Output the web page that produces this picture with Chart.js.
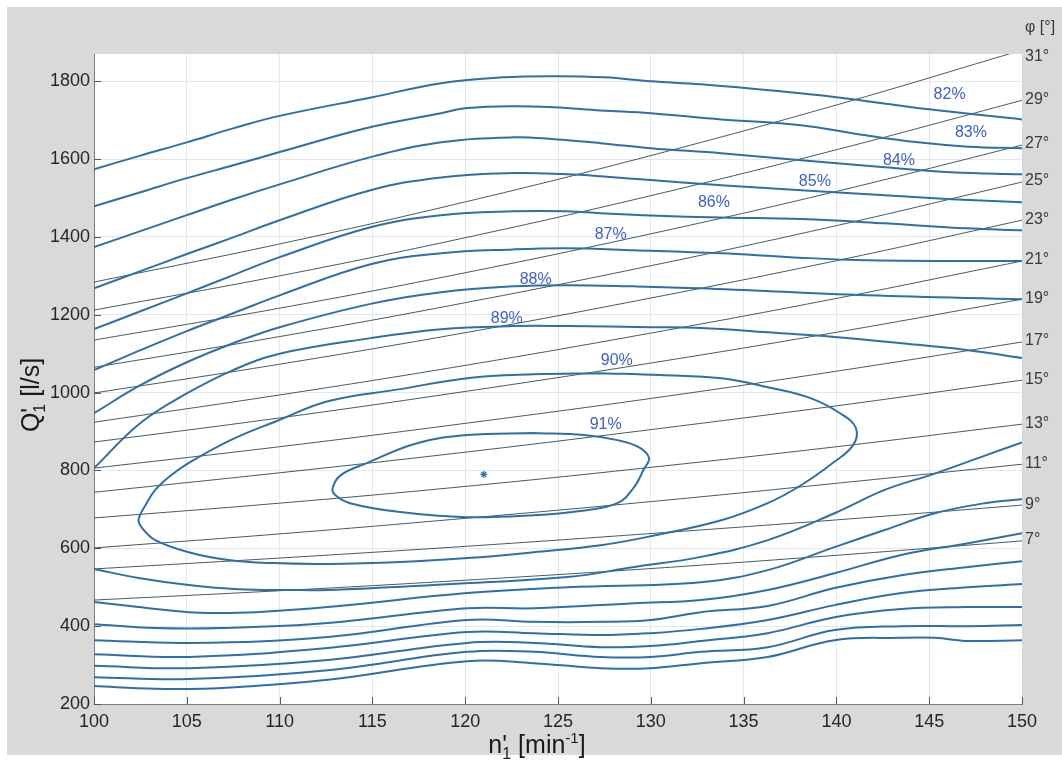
<!DOCTYPE html>
<html>
<head>
<meta charset="utf-8">
<title>Hill chart</title>
<script src="https://cdn.jsdelivr.net/npm/chart.js@4.4.1/dist/chart.umd.min.js"></script>
<style>
    html, body { margin: 0; padding: 0; background: #fff; }
    #hill { display: block; }
</style>
</head>
<body>
<canvas id="hill" width="1062" height="765"></canvas>
<script>
// ===== AXES =====
const nTicks = [100, 105, 110, 115, 120, 125, 130, 135, 140, 145, 150];
const qTicks = [200, 400, 600, 800, 1000, 1200, 1400, 1600, 1800];

// ===== GUIDE VANE OPENING LINES (Q' at n' = 100 ... 150) =====
const phiN = [100, 110, 120, 130, 140, 150];
const phiNames = ["31°", "29°", "27°", "25°", "23°", "21°", "19°", "17°", "15°", "13°", "11°", "9°", "7°"];
const phi31 = [1284, 1382, 1490, 1609, 1739, 1880];
const phi29 = [1212, 1300, 1398, 1506, 1624, 1751];
const phi27 = [1135, 1217, 1308, 1408, 1517, 1636];
const phi25 = [1065, 1144, 1231, 1326, 1429, 1541];
const phi23 = [999, 1073, 1154, 1243, 1339, 1443];
const phi21 = [924, 994, 1070, 1153, 1242, 1338];
const phi19 = [873, 935, 1003, 1076, 1155, 1240];
const phi17 = [806, 861, 921, 985, 1055, 1130];
const phi15 = [744, 794, 847, 905, 966, 1032];
const phi13 = [678, 716, 759, 808, 861, 919];
const phi11 = [601, 637, 677, 720, 767, 816];
const phi9 = [547, 575, 605, 638, 673, 711];
const phi7 = [467, 491, 518, 548, 582, 619];

// ===== EFFICIENCY CONTOURS [n', Q'] =====
const eta82Top = [[100,1574],[102.5,1609],[105,1643],[107.5,1679],[110,1711],[115,1759],[118.7,1795],[122,1810],[125,1813],[127.5,1810],[130,1800],[132.7,1792],[137,1774],[140,1759],[145,1728],[150,1702]];
const eta83Top = [[100,1479],[102.5,1515],[105,1551],[107.5,1584],[110,1618],[114.7,1680],[118.7,1718],[120.1,1731],[122.6,1736],[124.8,1733],[127.3,1725],[130,1718],[133.8,1702],[138.1,1687],[141.2,1664],[144.4,1643],[147.1,1632],[150,1628]];
const eta84Top = [[100,1374],[102.5,1415],[105,1456],[107.5,1497],[110,1535],[114.9,1605],[118.7,1643],[122.6,1656],[124.8,1651],[127.3,1641],[130,1628],[133.8,1615],[138.1,1597],[142.6,1579],[146.2,1566],[150,1561]];
const eta85Top = [[100,1268],[102.5,1312],[105,1356],[107.5,1399],[110,1443],[114.9,1520],[118.7,1553],[122.6,1564],[125.5,1561],[127.3,1556],[130,1546],[133.8,1533],[138.1,1520],[142.6,1507],[146.2,1497],[150,1489]];
const eta86Top = [[100,1163],[102.5,1209],[105,1255],[107.5,1302],[110,1348],[114.9,1425],[118.7,1456],[122.6,1466],[125.5,1466],[127.3,1461],[130,1455],[133.8,1450],[138.1,1446],[142.6,1435],[147,1422],[150,1417]];
const eta87Top = [[100,1058],[102.5,1109],[105,1158],[107.5,1204],[110,1250],[114.9,1330],[118.7,1358],[122.6,1368],[125.5,1371],[129.1,1366],[133.8,1358],[137.5,1348],[141.7,1340],[150,1338]];
const eta88Top = [[100,947],[102.5,1019],[105,1078],[107.5,1127],[110,1168],[114.9,1228],[118.7,1258],[122.6,1273],[125.5,1276],[129.1,1273],[132.7,1268],[141.7,1250],[150,1240]];
const eta89Top = [[100,806],[102.5,922],[105,998],[107.5,1058],[110,1100],[114.9,1140],[118.7,1163],[122.6,1171],[125.5,1171],[130,1168],[132.7,1166],[136.3,1155],[139.9,1143],[143.5,1127],[147.1,1109],[150,1089]];

const eta82Low = [[100,246],[103.3,239],[106.9,241],[112.6,262],[120.1,310],[123.7,305],[127.3,292],[130,292],[132.7,305],[136.3,321],[139.9,364],[143.5,370],[145.3,370],[147.1,362],[150,364]];
const eta83Low = [[100,269],[105.1,264],[112.6,287],[120.1,334],[123.7,334],[127.3,321],[130,321],[132.7,334],[136.3,346],[139.9,390],[143.5,400],[147.1,400],[150,403]];
const eta84Low = [[100,298],[105.1,292],[112.6,313],[120.1,357],[123.7,357],[127.3,346],[130,349],[132.7,362],[136.3,382],[139.9,423],[143.5,444],[147.1,449],[150,449]];
const eta85Low = [[100,328],[105.1,321],[112.6,344],[120.1,385],[123.7,382],[127.3,377],[130,382],[132.7,393],[136.3,416],[139.9,454],[143.5,485],[147.1,500],[150,508]];
const eta86Low = [[100,364],[105.1,357],[112.6,372],[120.1,416],[123.7,411],[127.3,411],[130,416],[132.7,436],[136.3,452],[139.9,498],[143.5,531],[147.1,552],[150,567]];
const eta87Low = [[100,405],[103.3,395],[106.9,395],[112.6,408],[120.1,446],[123.7,446],[129.1,459],[132.7,467],[136.3,493],[139.9,536],[143.5,583],[147.1,613],[150,639]];
const eta88Low = [[100,462],[102.4,449],[105.1,436],[106.6,434],[108.7,436],[112.6,449],[120.1,485],[125.5,500],[132.7,513],[136.3,544],[139.9,603],[142.6,647],[145.3,690],[148,716],[150,726]];
const eta89Low = [[100,547],[102.4,524],[105.1,506],[107.8,495],[110.5,493],[112.6,493],[118.3,506],[125.5,526],[129.1,552],[132.7,578],[136.3,621],[139.9,690],[142.6,750],[145.3,792],[148,838],[150,872]];

// closed contours, starting at the top
const eta90 = [[127.3,1050],[130.5,1045],[133.8,1037],[136.3,1014],[138.6,986],[140.2,947],[141.05,909],[140.9,865],[139.8,819],[138.1,762],[136.3,716],[133.8,672],[130,631],[127.3,608],[123.7,590],[120.1,575],[116.5,565],[112.6,560],[109.6,562],[107.25,570],[105.1,590],[103.3,621],[102.6,652],[102.4,673],[102.78,711],[103.3,750],[104.1,786],[105.2,822],[107.36,878],[109.95,929],[112.6,978],[116.5,1009],[120.1,1037],[123.7,1047],[127.3,1050]];
const eta91 = [[123.7,896],[126.4,891],[128.2,878],[129.35,860],[129.9,832],[129.6,801],[129.1,757],[128.2,716],[126.2,696],[123.7,685],[120.1,680],[116.5,693],[113.8,716],[113,737],[112.86,755],[113.3,788],[114.7,819],[117.4,870],[120.1,891],[123.7,896]];

const etaNames = ["82%", "83%", "84%", "85%", "86%", "87%", "88%", "89%", "90%", "91%"];
const etaLabelN = [146.1, 147.25, 143.37, 138.84, 133.4, 127.84, 123.8, 122.24, 128.17, 127.57];
const etaLabelQ = [1766, 1669, 1597, 1543, 1489, 1407, 1291, 1190, 1083, 919];

const bestPoint = [121, 790];

// ===== STYLE =====
const FONT = '"Liberation Sans", Arial, Helvetica, sans-serif';
const contourColor = "#2e6fa7";
const phiColor = "#2c4a4c";
const labelColor = "#3c5fc4";

const phiLines = [phi31, phi29, phi27, phi25, phi23, phi21, phi19, phi17, phi15, phi13, phi11, phi9, phi7];
const contours = [
    eta82Top, eta83Top, eta84Top, eta85Top, eta86Top, eta87Top, eta88Top, eta89Top,
    eta82Low, eta83Low, eta84Low, eta85Low, eta86Low, eta87Low, eta88Low, eta89Low,
    eta90, eta91
];

const datasets = [];

datasets.push({
    data: [{ x: bestPoint[0], y: bestPoint[1] }],
    pointStyle: "star",
    pointRadius: 3.5,
    borderColor: contourColor,
    borderWidth: 1.2,
    showLine: false
});

contours.forEach(c => {
    datasets.push({
        data: c.map(p => ({ x: p[0], y: p[1] })),
        showLine: true,
        borderColor: contourColor,
        borderWidth: 2,
        pointRadius: 0,
        tension: 0.4,
        fill: false
    });
});

phiLines.forEach(q => {
    datasets.push({
        data: phiN.map((n, i) => ({ x: n, y: q[i] })),
        showLine: true,
        borderColor: phiColor,
        borderWidth: 0.9,
        pointRadius: 0,
        tension: 0.4,
        fill: false
    });
});

// text made of pieces: subscripts / superscripts, stacked pieces share x
function drawRich(ctx, parts, cx, cy) {
    const pos = [];
    let x = 0, lastX = 0, lastW = 0;
    parts.forEach(p => {
        ctx.font = p.size + "px " + FONT;
        const w = ctx.measureText(p.t).width;
        if (p.stack) {
            pos.push(lastX);
            x = lastX + Math.max(lastW, w);
        } else {
            pos.push(x);
            lastX = x;
            lastW = w;
            x += w;
        }
    });
    const start = cx - x / 2;
    parts.forEach((p, i) => {
        ctx.font = p.size + "px " + FONT;
        ctx.fillText(p.t, start + pos[i], cy + (p.dy || 0));
    });
}

const decor = {
    id: "decor",
    beforeDraw(chart) {
        const ctx = chart.ctx;
        const a = chart.chartArea;
        ctx.save();
        ctx.fillStyle = "#ffffff";
        ctx.fillRect(0, 0, chart.width, chart.height);
        ctx.fillStyle = "#d9d9d9";
        ctx.fillRect(7, 7, chart.width - 7, chart.height - 17);
        ctx.fillStyle = "#ffffff";
        ctx.fillRect(a.left, a.top, a.right - a.left, a.bottom - a.top);
        ctx.restore();
    },
    afterDatasetsDraw(chart) {
        const ctx = chart.ctx;
        const a = chart.chartArea;
        const xs = chart.scales.x;
        const ys = chart.scales.y;
        ctx.save();

        // efficiency labels
        ctx.font = "16px " + FONT;
        ctx.fillStyle = labelColor;
        ctx.textAlign = "center";
        ctx.textBaseline = "middle";
        etaNames.forEach((t, i) => {
            ctx.fillText(t, xs.getPixelForValue(etaLabelN[i]), ys.getPixelForValue(etaLabelQ[i]));
        });

        // guide vane angles at the line ends
        ctx.fillStyle = "#3a3a3a";
        ctx.textAlign = "left";
        phiLines.forEach((q, i) => {
            const y = Math.max(a.top + 3, ys.getPixelForValue(q[q.length - 1]) - 1);
            ctx.fillText(phiNames[i], a.right + 3, y);
        });
        ctx.fillText("φ [°]", a.right + 3, 28);

        // inner tick marks
        ctx.strokeStyle = "#555555";
        ctx.lineWidth = 1;
        ctx.beginPath();
        nTicks.forEach(v => {
            const px = Math.round(xs.getPixelForValue(v)) + 0.5;
            ctx.moveTo(px, a.bottom);
            ctx.lineTo(px, a.bottom - 7);
        });
        qTicks.forEach(v => {
            const py = Math.round(ys.getPixelForValue(v)) + 0.5;
            ctx.moveTo(a.left, py);
            ctx.lineTo(a.left + 7, py);
        });
        ctx.stroke();

        // axis titles
        ctx.fillStyle = "#1a1a1a";
        ctx.textAlign = "left";
        ctx.textBaseline = "alphabetic";
        drawRich(ctx, [
            { t: "n", size: 25 },
            { t: "1", size: 16, dy: 6 },
            { t: "'", size: 25, stack: true },
            { t: " [min", size: 25 },
            { t: "-1", size: 15, dy: -10 },
            { t: "]", size: 25 }
        ], 537, 753);

        ctx.translate(30, 395);
        ctx.rotate(-Math.PI / 2);
        drawRich(ctx, [
            { t: "Q", size: 25 },
            { t: "1", size: 16, dy: 6 },
            { t: "'", size: 25, stack: true },
            { t: " [l/s]", size: 25 }
        ], 0, 9);

        ctx.restore();
    }
};

new Chart(document.getElementById("hill"), {
    type: "scatter",
    data: { datasets: datasets },
    options: {
        responsive: false,
        devicePixelRatio: 1,
        animation: false,
        layout: { padding: { left: 0, right: 40, top: 54, bottom: 0 } },
        plugins: {
            legend: { display: false },
            tooltip: { enabled: false }
        },
        scales: {
            x: {
                type: "linear",
                min: 100,
                max: 150,
                afterBuildTicks: s => { s.ticks = nTicks.map(v => ({ value: v })); },
                afterFit: s => { s.height = 61; },
                grid: { color: "rgba(205,214,224,0.55)", drawTicks: false },
                border: { color: "#7d7d7d", width: 1 },
                ticks: { color: "#262626", padding: 7, maxRotation: 0, font: { size: 18, family: FONT }, callback: v => String(v) }
            },
            y: {
                type: "linear",
                min: 200,
                max: 1870,
                afterBuildTicks: s => { s.ticks = qTicks.map(v => ({ value: v })); },
                afterFit: s => { s.width = 94; },
                grid: { color: "rgba(205,214,224,0.55)", drawTicks: false },
                border: { color: "#7d7d7d", width: 1 },
                ticks: { color: "#262626", padding: 4, font: { size: 18, family: FONT }, callback: v => String(v) }
            }
        }
    },
    plugins: [decor]
});
</script>
</body>
</html>
